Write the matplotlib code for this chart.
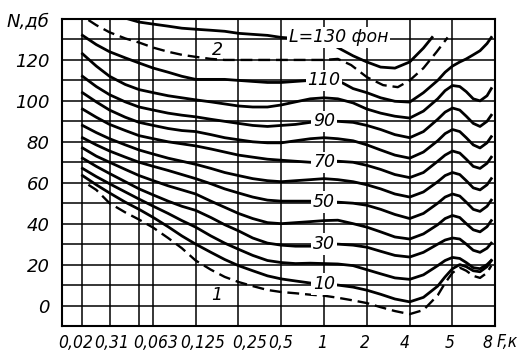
import numpy as np
import matplotlib
matplotlib.use("Agg")
import matplotlib.pyplot as plt

# ---------------- data ----------------
# frequency grid, kHz
F = [0.02, 0.025, 0.031, 0.04, 0.05, 0.063, 0.08, 0.1, 0.125, 0.16, 0.2, 0.25,
     0.315, 0.4, 0.5, 0.63, 0.8, 1, 1.25, 1.6, 2, 2.5, 3.15, 4, 5, 6.3, 7.1, 8,
     9, 10, 11.2, 12.5, 14, 15]

# sound pressure level N, dB, of the equal-loudness contours (phon)
N10 = [63.5, 59, 55, 50.5, 47, 43, 38.5, 34, 30, 26, 22.5, 19.5, 17, 14.5, 13,
       12, 11, 10.5, 10, 9, 7.5, 5.5, 3.2, 1.8,
       4, 9.5, 14, 18, 20, 19, 17, 16.5, 19, 22]
N20 = [67, 63, 59.5, 55.5, 52, 48.5, 45, 41.5, 38.3, 34, 30.5, 27.5, 24.5, 22,
       21, 20.5, 20.7, 20.5, 20.3, 19.5, 17.5, 15.5, 13.5, 12.8,
       15, 19.5, 22, 23.5, 23, 21, 18.5, 18, 20, 22]
N30 = [72, 68, 64.5, 60.5, 57, 54, 51, 48.5, 46.5, 43, 39.5, 36.5, 33, 30.5,
       29.5, 29, 29, 30, 30, 29.5, 28.5, 26.5, 24.5, 23.7,
       26, 30, 32, 33, 32.5, 30, 27, 26, 28, 30.5]
N40 = [77, 73, 70, 66.5, 63.5, 61, 58.5, 56.5, 54.5, 51, 48, 45, 42.5, 40.5,
       40, 40.5, 41, 41.5, 41.7, 40, 38.3, 36, 33.5, 32.5,
       35, 39.5, 42.5, 44, 43, 40, 37, 36, 38.5, 41.5]
N50 = [82, 78.5, 75.5, 72.5, 70, 68, 66, 64, 62, 59.5, 57, 55, 53, 51.5, 51,
       51, 51, 50.5, 50.5, 50, 49, 47, 44.5, 42.5,
       45, 50, 53, 54.5, 53.5, 50.5, 47, 46, 48.5, 51.5]
N60 = [88, 84.5, 81.5, 78.5, 76, 74, 72, 70.5, 69, 67, 65, 63.5, 62, 61, 60.5,
       61, 61.5, 62, 61.5, 60.5, 59, 57, 54.5, 53,
       55.5, 60.5, 63.5, 65, 64, 61, 57.5, 56.5, 59, 62]
N70 = [96, 92, 88.5, 85.5, 83, 81.5, 80, 79, 78, 76.5, 75, 73.5, 72.5, 71.5, 71,
       70.5, 70, 70, 70.5, 70, 68.5, 66.5, 64, 62.5,
       65, 70.5, 73.5, 75.5, 74.5, 71.5, 68, 67, 69.5, 72.5]
N80 = [104, 99.5, 95.5, 92, 89.5, 88, 86.5, 85.5, 85, 83.5, 82, 81, 80, 79.5,
       79.5, 80.5, 81.5, 82, 81.5, 80.5, 78.5, 76, 73.5, 72,
       75, 80.5, 84, 86, 85, 82, 78.5, 77, 79.5, 82.5]
N90 = [112, 107, 103, 99.5, 97, 95.5, 94, 93, 92.2, 91, 90, 89, 88, 87.5, 88,
       88.5, 89.5, 90, 90, 89.5, 88, 86, 83.5, 82,
       85, 91, 94.5, 96.5, 95.5, 92.5, 89, 87.5, 90, 93]
N100 = [123, 117, 112, 108, 105.5, 104, 102.5, 101.5, 100.5, 99.5, 98.5, 97.5,
        97, 97, 98, 99.5, 101, 101.5, 101, 99, 96, 94, 92.5, 91.6,
        95, 101, 105, 107.5, 107, 104.5, 101, 100, 102.5, 106]
N110 = [132, 127.5, 124, 121, 118.5, 116, 114, 112, 110.5, 110.5, 110.5, 110,
        109.5, 109, 109, 109.5, 110, 110, 110, 106, 104, 101.5, 99.8, 99.4,
        104, 110, 114, 117, 119, 120.5, 122.5, 124.5, 128, 131]

# curve 1 (threshold of hearing, dashed)
F_1 = [0.022, 0.025, 0.031, 0.04, 0.05, 0.063, 0.08, 0.1, 0.125, 0.16, 0.2,
       0.25, 0.315, 0.4, 0.5, 0.63, 0.8, 1, 1.25, 1.6, 2, 2.5, 3.15, 4, 5, 6.3,
       7.1, 8, 9, 10, 11.2, 12.5, 14, 15]
N_1 = [59, 56.5, 50, 45.5, 42, 38, 33, 28, 22, 17.5, 14, 11.5, 9.5, 7.6, 6.6, 6,
       5.3, 4.8, 3.8, 2.5, 1.2, -0.8, -2.7, -4.2, -2.2, 5, 11, 16, 18.5, 17,
       14.5, 13.5, 16, 19.5]

# curve 2 (threshold of pain, dashed)
F_2 = [0.022, 0.025, 0.031, 0.04, 0.05, 0.063, 0.08, 0.1, 0.125, 0.16, 0.2,
       0.25, 0.315, 0.4, 0.5, 0.63, 0.8, 1, 1.25, 1.55, 2, 2.6, 3.3, 4, 5, 6.2,
       7.4]
N_2 = [139.5, 137, 133.5, 130.5, 128.5, 126, 124, 122.5, 121.5, 120.5, 120, 120,
       120, 120, 120, 120, 120, 120, 120.5, 117.5, 111.6, 107.7, 106.7, 110,
       116, 124, 131]

# L = 130 phon
F_130 = [0.042, 0.05, 0.063, 0.08, 0.1, 0.125, 0.16, 0.2, 0.25, 0.315, 0.4, 0.5,
         0.63, 0.8, 1, 1.25, 1.6, 2, 2.5, 3.15, 4, 5, 5.75]
N_130 = [140, 138.5, 137.5, 136.5, 135.5, 135, 134.5, 134, 133, 132.5, 132, 131,
         130.5, 130.5, 130.5, 126, 122, 119, 116.5, 116, 119, 125.8, 131]

levels = [10, 20, 30, 40, 50, 60, 70, 80, 90, 100, 110]
curves = [N10, N20, N30, N40, N50, N60, N70, N80, N90, N100, N110]
labelled = [10, 30, 50, 70, 90, 110]

# axis text
grid_f = [0.02, 0.031, 0.05, 0.063, 0.125, 0.25, 0.5, 1, 2, 4, 8]
xlabel_f = [0.0180, 0.0322, 0.0658, 0.1408, 0.301, 0.498, 0.967, 1.94, 3.71,
            7.69, 14.2]
xlabels = ['0,02', '0,31', '0,063', '0,125', '0,25', '0,5', '1', '2', '4', '5',
           '8']
yticks = [0, 20, 40, 60, 80, 100, 120, 140]
ylabels = ['0', '20', '40', '60', '80', '100', '120', 'N,дб']

# ---------------- drawing ----------------
W, H = 528, 354
fig = plt.figure(figsize=(W / 100, H / 100), dpi=100)
ax = fig.add_axes([62 / W, 28 / H, 433 / W, 307 / H])
ax.set_xscale('log')
ax.set_xlim(0.01435, 15.93)
ax.set_ylim(-10, 140)

ax.set_xticks(grid_f, minor=True)
ax.set_xticks(xlabel_f)
ax.set_xticklabels(xlabels, fontsize=12.5, fontstyle='italic',
                   fontstretch='condensed')
ax.xaxis.set_minor_formatter(matplotlib.ticker.NullFormatter())
ax.set_yticks(np.arange(-10, 141, 10), minor=True)
ax.set_yticks(yticks)
ax.set_yticklabels(ylabels, fontsize=13, fontstyle='italic')
ax.tick_params(which='both', length=0)
ax.tick_params(axis='x', pad=6)
ax.tick_params(axis='y', pad=9)
ax.grid(True, which='minor', color='black', lw=1.1, zorder=0)
ax.grid(False, which='major', axis='x')
ax.grid(True, which='major', axis='y', color='black', lw=1.1, zorder=0)
for s in ax.spines.values():
    s.set_linewidth(1.5)

lw = 2.0
for L, N in zip(levels, curves):
    ax.plot(F, N, color='black', lw=lw, solid_joinstyle='round', zorder=3)
ax.plot(F_130, N_130, color='black', lw=lw, solid_joinstyle='round', zorder=3)
ax.plot(F_1, N_1, color='black', lw=1.7, dashes=(5, 2.5), zorder=3)
ax.plot(F_2, N_2, color='black', lw=1.7, dashes=(5, 2.5), zorder=3)

lab_kw = dict(fontsize=12.5, fontstyle='italic', ha='center', va='center',
              zorder=5,
              bbox=dict(facecolor='white', edgecolor='none', pad=1.2))
logF = np.log(F)
for L, N in zip(levels, curves):
    if L in labelled:
        fx = 1.0
        ax.text(fx, np.interp(np.log(fx), logF, N), str(L), **lab_kw)
ax.text(1.27, 131, 'L=130 фон', **lab_kw)
ax.text(0.177, 125, '2', fontsize=12.5, fontstyle='italic', ha='center',
        va='center', zorder=5)
ax.text(0.177, 5, '1', fontsize=12.5, fontstyle='italic', ha='center',
        va='center', zorder=5)

fig.text(497 / W, 1 - 342 / H, 'F,к', fontsize=12.5, fontstyle='italic',
         fontstretch='condensed', ha='left', va='center')

fig.savefig('out.png', dpi=100, facecolor='white')
